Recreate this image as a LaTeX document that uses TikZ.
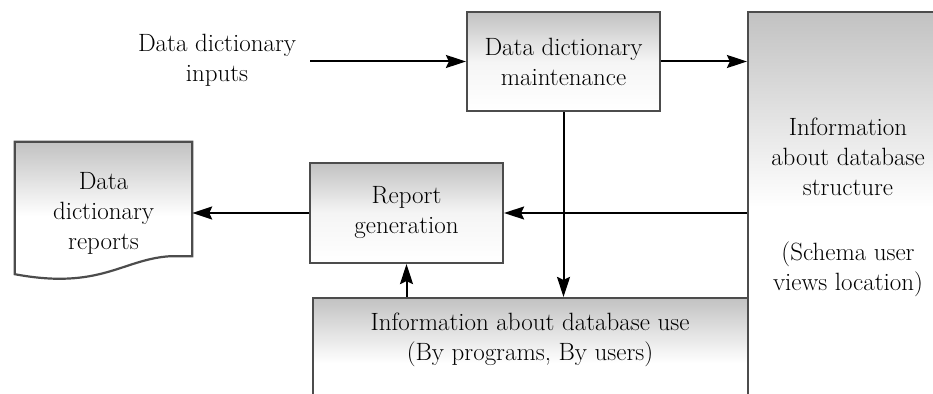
\documentclass[tikz,border=0pt]{standalone}
\usetikzlibrary{arrows.meta}
\begin{document}
\begin{tikzpicture}[x=1pt,y=1pt,
  every node/.style={font=\fontsize{25}{30}\selectfont, align=center},
  box/.style={draw=black!70, line width=2.2pt, rectangle, inner sep=0pt,
    top color=black!24, bottom color=white, middle color=black!4},
  tallbox/.style={box, middle color=white},
  plain/.style={inner sep=0pt},
  arr/.style={draw=black, line width=2pt,
    -{Stealth[length=20pt,width=13pt,inset=3pt]}}]
\useasboundingbox (0,0) rectangle (933,-393);
\clip (0,0) rectangle (933,-393);

% boxes
\node[box, minimum width=193pt, minimum height=99pt] (maint) at (563.5,-61.5)
  {Data dictionary\\maintenance};
\node[tallbox, minimum width=200pt, minimum height=390pt] (struct) at (848,-207)
  {Information\\about database\\structure\\[35pt](Schema user\\views location)};
\node[box, minimum width=193pt, minimum height=100pt] (report) at (406.5,-213)
  {Report\\generation};
\node[tallbox, minimum width=435pt, minimum height=130pt] (use) at (530.5,-363) {};
\node[plain] (usetxt) at (530,-340)
  {Information about database use\\(By programs, By users)};

% document symbol
\node[plain, minimum width=177pt, minimum height=114pt] (doc) at (103.5,-199) {};
\path[draw=black!70, line width=2.2pt, top color=black!24, bottom color=white,
      middle color=white]
  (doc.north west) -- (doc.north east) -- (doc.south east)
  -- ([xshift=-22pt]doc.south east)
  .. controls ([xshift=-70pt,yshift=-3pt]doc.south east)
  and ([xshift=-92pt,yshift=-34pt]doc.south east) .. ([yshift=-18pt]doc.south west)
  -- cycle;
\node[plain] (doctxt) at ([yshift=-14pt]doc.center) {Data\\dictionary\\reports};

% input label
\node[plain] (inputs) at (217,-60) {Data dictionary\\inputs};

% connectors
\draw[arr] ([xshift=14pt]inputs.east |- maint.west) -- (maint.west);
\draw[arr] (maint.east) -- (maint.east -| struct.west);
\draw[arr] (maint.south) -- (maint.south |- use.north);
\draw[arr] (report.east -| struct.west) -- (report.east);
\draw[arr] (report.west) -- (report.west -| doc.east);
\draw[arr] (report.south |- use.north) -- (report.south);
\end{tikzpicture}
\end{document}
